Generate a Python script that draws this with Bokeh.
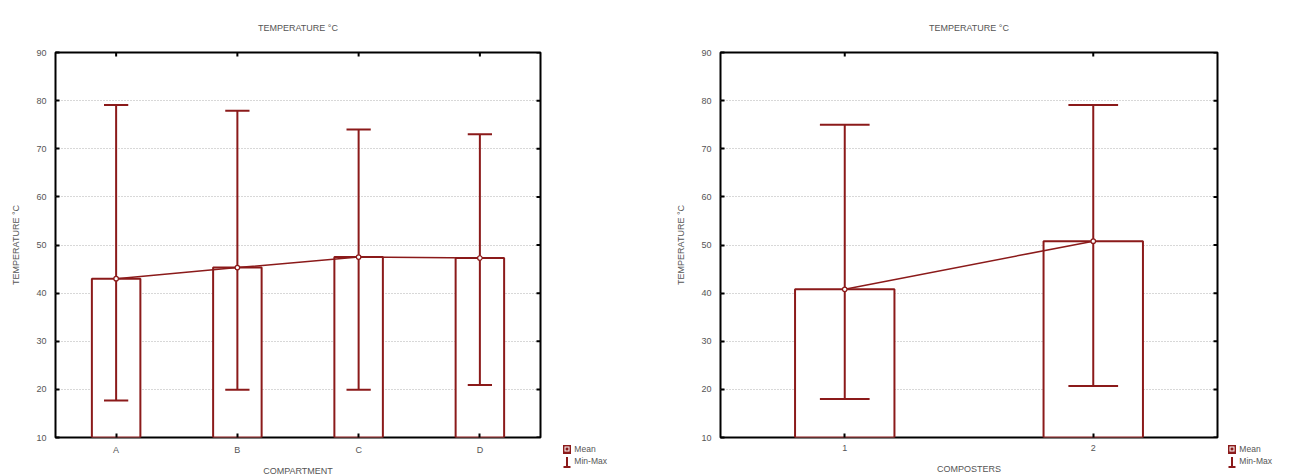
from bokeh.plotting import figure
from bokeh.layouts import row, column
from bokeh.models import (ColumnDataSource, FixedTicker, Range1d, FactorRange, Div, Spacer)
from bokeh.transform import dodge
from bokeh.embed import file_html
from bokeh.resources import INLINE
import numpy as np

# ---- data ----
compartments = ["A", "B", "C", "D"]
comp_mean = [43.0, 45.3, 47.5, 47.3]
comp_min = [17.7, 19.9, 19.9, 20.9]
comp_max = [79.1, 77.9, 74.0, 73.0]

composters = ["1", "2"]
cmp_mean = [40.8, 50.8]
cmp_min = [18.0, 20.7]
cmp_max = [75.0, 79.1]

y_ticks = [10, 20, 30, 40, 50, 60, 70, 80, 90]
title_text = "TEMPERATURE °C"
y_label = "TEMPERATURE °C"
legend_labels = ["Mean", "Min-Max"]

RED = "#8b1a1a"
TXT = "#555555"
FONT = "Liberation Sans"
H = 475
BT, BB = 52, 38


def make_panel(cats, mean, mn, mx, xlabel, bl, br, fw, xlab_standoff):
    src = ColumnDataSource(dict(cat=cats, mean=mean, mn=mn, mx=mx))
    p = figure(x_range=FactorRange(factors=cats), y_range=Range1d(y_ticks[0], y_ticks[-1]),
               frame_width=fw, frame_height=H - BT - BB,
               min_border_left=bl, min_border_right=br, min_border_top=BT,
               min_border_bottom=BB,
               output_backend="svg", toolbar_location=None,
               title=title_text)
    p.title.align = "center"
    p.title.vertical_align = "bottom"
    p.title.standoff = 40
    p.title.text_font = FONT
    p.title.text_font_size = "9px"
    p.title.text_font_style = "normal"
    p.title.text_color = TXT

    p.outline_line_color = "black"
    p.outline_line_width = 2
    p.xgrid.visible = False
    p.ygrid.grid_line_color = "#b0b0b0"
    p.ygrid.grid_line_dash = "1 2"
    p.ygrid.grid_line_width = 1
    p.ygrid.ticker = FixedTicker(ticks=y_ticks)

    for ax in (p.xaxis[0], p.yaxis[0]):
        ax.axis_line_color = None
        ax.major_tick_in = 4
        ax.major_tick_out = 0
        ax.minor_tick_line_color = None
        ax.major_tick_line_color = "black"
        ax.major_tick_line_width = 2
        ax.major_label_text_font = FONT
        ax.major_label_text_font_size = "9px"
        ax.major_label_text_color = TXT
        ax.axis_label_text_font = FONT
        ax.axis_label_text_font_size = "9px"
        ax.axis_label_text_font_style = "normal"
        ax.axis_label_text_color = TXT
    p.yaxis[0].ticker = FixedTicker(ticks=y_ticks)
    p.yaxis[0].axis_label = y_label
    p.yaxis[0].major_label_standoff = 9
    p.yaxis[0].axis_label_standoff = 12
    p.xaxis[0].axis_label = xlabel
    p.xaxis[0].major_label_standoff = 7
    p.xaxis[0].axis_label_standoff = xlab_standoff

    # inner ticks on top and right edges (half of each marker is clipped by the frame)
    p.scatter(x=cats, y=[y_ticks[-1]] * len(cats), marker="dash", angle=np.pi / 2,
              size=8, line_color="black", line_width=2)
    p.scatter(x=[len(cats)] * len(y_ticks), y=y_ticks, marker="dash",
              size=8, line_color="black", line_width=2)

    p.vbar(x="cat", top="mean", bottom=0, width=0.4, source=src,
           fill_color="white", line_color=RED, line_width=2)
    p.segment(x0="cat", y0="mn", x1="cat", y1="mx", source=src,
              line_color=RED, line_width=2)
    for col in ("mn", "mx"):
        p.segment(x0=dodge("cat", -0.1, range=p.x_range), y0=col,
                  x1=dodge("cat", 0.1, range=p.x_range), y1=col, source=src,
                  line_color=RED, line_width=2)
    p.line(x="cat", y="mean", source=src, line_color=RED, line_width=1.5)
    p.scatter(x="cat", y="mean", source=src, marker="circle", size=4.5,
              fill_color="white", line_color=RED, line_width=1.2)
    return p


def make_legend(width, top):
    icon_mean = ('<svg width="10" height="11" style="vertical-align:middle">'
                 f'<rect x="1" y="1" width="8" height="9" fill="{RED}"/>'
                 '<rect x="3" y="3" width="4" height="4" fill="none" stroke="white" stroke-width="1"/>'
                 '</svg>')
    icon_mm = ('<svg width="10" height="11" style="vertical-align:middle">'
               f'<path d="M5 0 V10 M1.5 10 H8.5" stroke="{RED}" stroke-width="2" fill="none"/>'
               '</svg>')
    html = (f'<div style="font-family:\'{FONT}\';font-size:8.5px;color:{TXT};line-height:12px;white-space:nowrap">'
            f'<div>{icon_mean} {legend_labels[0]}</div>'
            f'<div>{icon_mm} {legend_labels[1]}</div></div>')
    d = Div(text=html, width=width, height=H - top, margin=0)
    return column(Spacer(width=width, height=top, margin=0), d, width=width, height=H)


p1 = make_panel(compartments, comp_mean, comp_min, comp_max, "COMPARTMENT",
                55, 22, 485, 8)
l1 = make_legend(670 - 562, 443)
p2 = make_panel(composters, cmp_mean, cmp_min, cmp_max, "COMPOSTERS",
                50, 10, 497, 10)
l2 = make_legend(1292 - 1227, 443)

layout = row(p1, l1, p2, l2)
open("out.html", "w").write(file_html(layout, INLINE))
